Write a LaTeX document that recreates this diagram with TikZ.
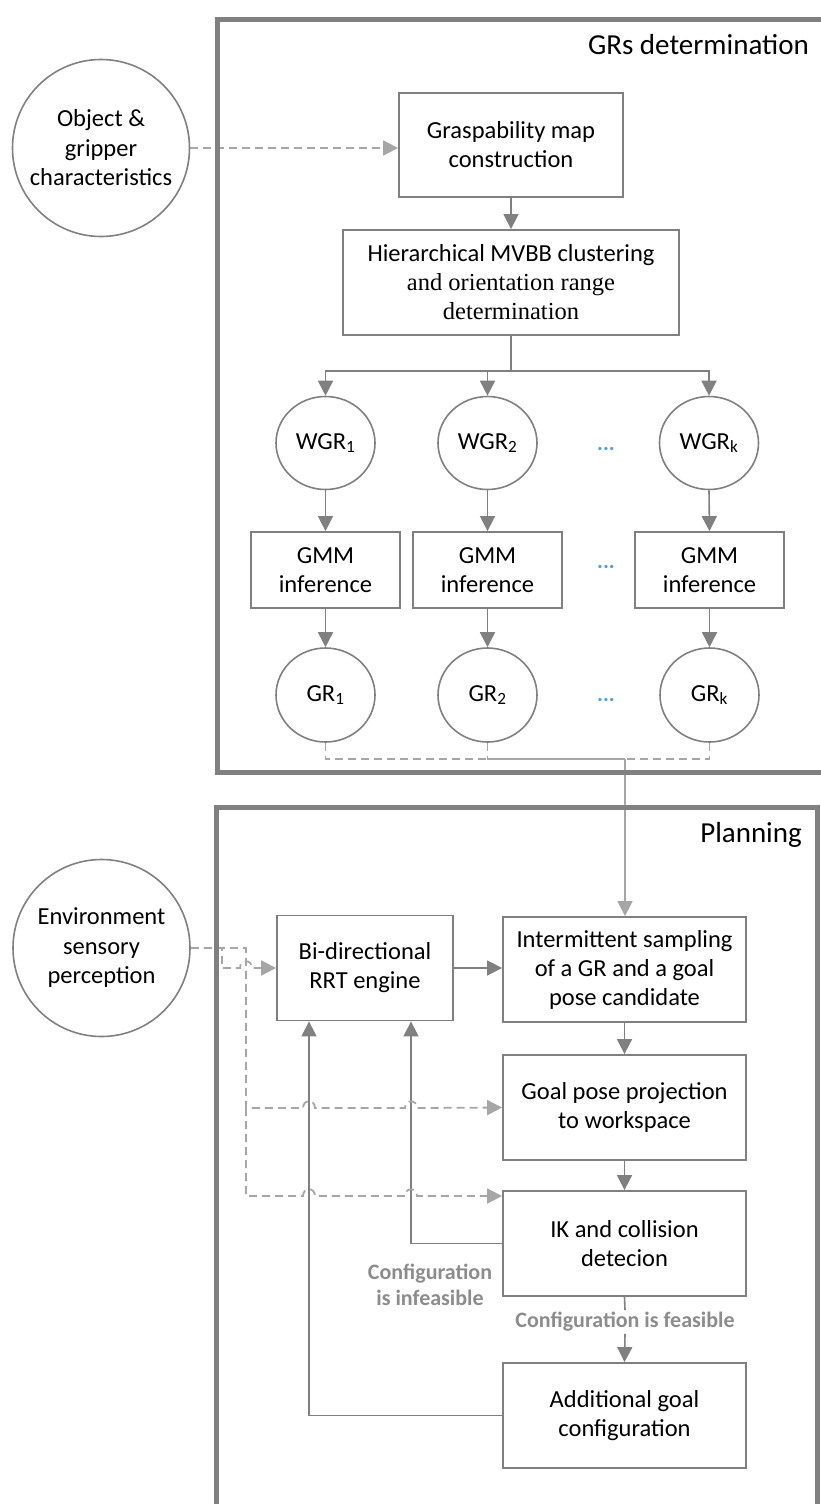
\documentclass[tikz,border=0pt]{standalone}
\usepackage{fontspec}
\setmainfont{Carlito}
\newfontfamily\timesfont{Liberation Serif}
\usetikzlibrary{arrows.meta,shapes.geometric}
\definecolor{boxgray}{HTML}{808080}
\definecolor{lgray}{HTML}{A6A6A6}
\definecolor{dotblue}{HTML}{5B9BD5}
\definecolor{lblgray}{HTML}{8C8C8C}
\begin{document}
\begin{tikzpicture}[x=1pt,y=-1pt,
  box/.style={draw=boxgray, line width=1.8pt, fill=white, align=center, inner sep=0pt,
    font=\fontsize{24.5}{29}\selectfont},
  bigcirc/.style={draw=boxgray, line width=1.6pt, fill=white, align=center, inner sep=0pt,
    circle, minimum size=177pt, font=\fontsize{24.5}{29.5}\selectfont},
  smallell/.style={draw=boxgray, line width=1.6pt, fill=white, inner sep=0pt,
    ellipse, minimum width=99pt, minimum height=93pt, font=\fontsize{24.5}{29}\selectfont},
  arr/.style={draw=boxgray, line width=1.6pt, -{Triangle[length=15pt,width=15pt]}},
  sline/.style={draw=boxgray, line width=1.6pt},
  darr/.style={draw=lgray, line width=1.8pt, dash pattern=on 8pt off 5pt,
    -{Triangle[length=15pt,width=15pt]}},
  dline/.style={draw=lgray, line width=1.8pt, dash pattern=on 8pt off 5pt},
  frameline/.style={draw=boxgray, line width=5pt},
  dotsty/.style={text=dotblue, font=\fontsize{22}{22}\selectfont\bfseries, inner sep=0pt},
  lbl/.style={text=lblgray, font=\fontsize{22}{26}\selectfont\bfseries, align=center, inner sep=2pt},
  ttl/.style={font=\fontsize{29}{32}\selectfont, anchor=east, inner sep=0pt}
]
\useasboundingbox (0,0) rectangle (821,1504);
\clip (0,0) rectangle (821,1504);

% ---------- GRs determination ----------
\node[ttl] (t1) at (809,45) {GRs determination};
\node[bigcirc] (obj) at (101,148) {Object \&\\gripper\\characteristics};
\node[box, minimum width=224pt, minimum height=104pt] (grasp) at (511,145) {Graspability map\\construction};
\node[box, minimum width=336pt, minimum height=105pt] (hier) at (511,282.5)
  {Hierarchical MVBB clustering\\{\timesfont and orientation range}\\{\timesfont determination}};
\coordinate (split) at (511,371);

\node[smallell] (wgr1) at (325.5,443) {WGR\textsubscript{1}};
\node[smallell] (wgr2) at (487.5,443) {WGR\textsubscript{2}};
\node[smallell] (wgrk) at (709,443) {WGR\textsubscript{k}};
\node[dotsty] (d1) at (606,449) {...};

\node[box, minimum width=149pt, minimum height=76pt] (gmm1) at (325.5,570) {GMM\\inference};
\node[box, minimum width=149pt, minimum height=76pt] (gmm2) at (487.5,570) {GMM\\inference};
\node[box, minimum width=149pt, minimum height=76pt] (gmmk) at (709.5,570) {GMM\\inference};
\node[dotsty] (d2) at (606,567) {...};

\node[smallell, minimum height=94pt] (gr1) at (325.5,695) {GR\textsubscript{1}};
\node[smallell, minimum height=94pt] (gr2) at (487.5,695) {GR\textsubscript{2}};
\node[smallell, minimum height=94pt] (grk) at (709.5,695) {GR\textsubscript{k}};
\node[dotsty] (d3) at (606,700) {...};
\coordinate (merge) at (625,759);

% ---------- Planning ----------
\node[ttl] (t2) at (802,835) {Planning};
\node[bigcirc] (env) at (101.5,948) {Environment\\sensory\\perception};
\node[box, minimum width=176pt, minimum height=105pt] (bidir) at (365,968) {Bi-directional\\RRT engine};
\node[box, minimum width=243pt, minimum height=105pt] (inter) at (624.5,969.5)
  {Intermittent sampling\\of a GR and a goal\\pose candidate};
\node[box, minimum width=243pt, minimum height=105pt] (goal) at (624.5,1107.5) {Goal pose projection\\to workspace};
\node[box, minimum width=243pt, minimum height=105pt] (ik) at (624.5,1243.5) {IK and collision\\detecion};
\node[box, minimum width=243pt, minimum height=105pt] (addl) at (624.5,1415.5) {Additional goal\\configuration};
\node[lbl] (infeas) at (430,1285) {Configuration\\is infeasible};
\node[lbl] (feas) at (625,1322) {Configuration is feasible};
\coordinate (ikin) at (0,1196);

% ---------- connectors (top) ----------
\draw[darr] (obj.east) -- (obj.east -| grasp.west);
\draw[arr] (grasp.south) -- (hier.north);
\draw[sline] (hier.south) -- (split);
\draw[arr] (split) -| (wgr1.north);
\draw[arr] (split) -| (wgr2.north);
\draw[arr] (split) -| (wgrk.north);
\draw[arr] (wgr1.south) -- (gmm1.north);
\draw[arr] (wgr2.south) -- (gmm2.north);
\draw[arr] (wgrk.south) -- (gmmk.north);
\draw[arr] (gmm1.south) -- (gr1.north);
\draw[arr] (gmm2.south) -- (gr2.north);
\draw[arr] (gmmk.south) -- (grk.north);
\draw[dline] (gr1.south) |- (merge);
\draw[dline] (gr2.south) |- (merge);
\draw[dline] (grk.south) |- (merge);
\draw[draw=lgray, line width=1.6pt, -{Triangle[length=15pt,width=15pt]}] (merge) -- (merge |- inter.north);

% ---------- connectors (planning) ----------
\draw[arr] (bidir.east) -- (bidir.east -| inter.west);
\draw[arr] (inter.south) -- (goal.north);
\draw[arr] (goal.south) -- (ik.north);
\draw[sline] (ik.south) -- (feas.north);
\draw[arr] (feas.south) -- (addl.north);
\draw[arr] (ik.west) -| ([xshift=46pt]bidir.south);
\draw[arr] (addl.west) -| ([xshift=-56pt]bidir.south);

\draw[darr] (env.east) -- (222,948) -- (222,968) -- (240,968)
  .. controls (240,959) and (252,959) .. (252,968) -- (bidir.west);
\draw[darr] (env.east) -- (246,948) -- (246,1108) -- (303,1108)
  .. controls (303,1099) and (315,1099) .. (315,1108) -- (405,1108)
  .. controls (405,1099) and (417,1099) .. (417,1108) -- (goal.west);
\draw[darr] (246,1108) -- (246,1196) -- (303,1196)
  .. controls (303,1187) and (315,1187) .. (315,1196) -- (405,1196)
  .. controls (405,1187) and (417,1187) .. (417,1196) -- (ik.west |- ikin);

% ---------- frames ----------
\draw[frameline] (217,20) rectangle (828,772);
\draw[frameline] (216,807) rectangle (817,1520);
\end{tikzpicture}
\end{document}
